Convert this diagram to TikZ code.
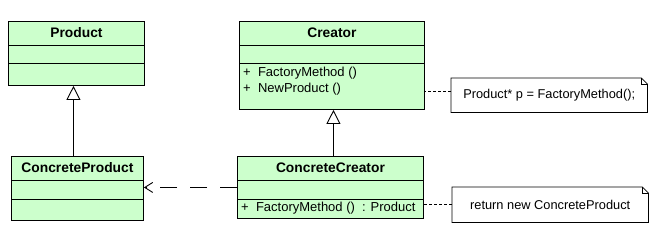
\documentclass[tikz,border=0pt]{standalone}
\usepackage{fontspec}
\setmainfont{Liberation Sans}
\usetikzlibrary{arrows.meta,calc}
\definecolor{umlgreen}{RGB}{204,255,204}
\tikzset{
 cls/.style={draw=black, fill=umlgreen, line width=0.9pt, inner sep=0pt, anchor=north west},
 clsname/.style={font=\fontsize{13.8}{15}\selectfont\bfseries, inner sep=0pt},
 member/.style={font=\fontsize{13}{15}\selectfont, inner sep=0pt, anchor=west},
 notebox/.style={inner sep=0pt, anchor=north west, font=\fontsize{12.8}{15}\selectfont},
 noteline/.style={line width=0.8pt},
 divider/.style={line width=0.9pt},
 inherit/.style={line width=0.9pt, -{Triangle[open, length=14pt, width=14pt, fill=white]}},
 depend/.style={line width=0.9pt, dash pattern=on 17pt off 13pt, -{Straight Barb[length=8pt,width=10pt]}},
 notelink/.style={line width=0.7pt, dash pattern=on 3pt off 2pt},
}
\begin{document}
\begin{tikzpicture}[x=1pt,y=-1pt]
\useasboundingbox (0,0) rectangle (662,242);
\fill[white] (0,0) rectangle (662,242);

% Product
\node[cls, minimum width=136pt, minimum height=64pt] (p) at (8,21) {};
\node[clsname] (pn) at ($(p.north)+(0,12)$) {Product};
\draw[divider] ([yshift=-24pt]p.north west) -- ([yshift=-24pt]p.north east);
\draw[divider] ([yshift=-42pt]p.north west) -- ([yshift=-42pt]p.north east);

% ConcreteProduct
\node[cls, minimum width=132pt, minimum height=64pt] (cp) at (11,156) {};
\node[clsname] (cpn) at ($(cp.north)+(0,12)$) {ConcreteProduct};
\draw[divider] ([yshift=-24pt]cp.north west) -- ([yshift=-24pt]cp.north east);
\draw[divider] ([yshift=-43pt]cp.north west) -- ([yshift=-43pt]cp.north east);

% Creator
\node[cls, minimum width=185pt, minimum height=88pt] (cr) at (239,21) {};
\node[clsname] (crn) at ($(cr.north)+(0,12)$) {Creator};
\draw[divider] ([yshift=-24pt]cr.north west) -- ([yshift=-24pt]cr.north east);
\draw[divider] ([yshift=-42pt]cr.north west) -- ([yshift=-42pt]cr.north east);
\node[member] (cr1) at ($(cr.north west)+(4,52)$) {+\ \ FactoryMethod ()};
\node[member] (cr2) at ($(cr.north west)+(4,68)$) {+\ \ NewProduct ()};

% ConcreteCreator
\node[cls, minimum width=186pt, minimum height=62pt] (cc) at (237,156) {};
\node[clsname] (ccn) at ($(cc.north)+(0,12)$) {ConcreteCreator};
\draw[divider] ([yshift=-24pt]cc.north west) -- ([yshift=-24pt]cc.north east);
\draw[divider] ([yshift=-43pt]cc.north west) -- ([yshift=-43pt]cc.north east);
\node[member] (cc1) at ($(cc.north west)+(4,52)$) {+\ \ FactoryMethod ()\ \ : Product};

% Notes
\node[notebox, minimum width=196pt, minimum height=34pt] (n1) at (451,78) {Product* p = FactoryMethod();};
\draw[noteline] (n1.north west) -- ([xshift=-6pt]n1.north east) -- ([yshift=-6pt]n1.north east) -- (n1.south east) -- (n1.south west) -- cycle;
\draw[noteline] ([xshift=-6pt]n1.north east) -- ([xshift=-6pt,yshift=-6pt]n1.north east) -- ([yshift=-6pt]n1.north east);

\node[notebox, minimum width=196pt, minimum height=35pt] (n2) at (452,187) {return new ConcreteProduct};
\draw[noteline] (n2.north west) -- ([xshift=-6pt]n2.north east) -- ([yshift=-6pt]n2.north east) -- (n2.south east) -- (n2.south west) -- cycle;
\draw[noteline] ([xshift=-6pt]n2.north east) -- ([xshift=-6pt,yshift=-6pt]n2.north east) -- ([yshift=-6pt]n2.north east);

% Connectors
\draw[inherit] ([xshift=-4pt]cp.north) -- ([xshift=-4pt]cp.north |- p.south);
\draw[inherit] ([xshift=3pt]cc.north) -- ([xshift=3pt]cc.north |- cr.south);
\draw[depend] (cc.west) -- (cc.west -| cp.east);
\draw[notelink] ([yshift=4pt]n1.west) -- ([yshift=4pt]n1.west -| cr.east);
\draw[notelink] (n2.west) -- (n2.west -| cc.east);
\end{tikzpicture}
\end{document}
